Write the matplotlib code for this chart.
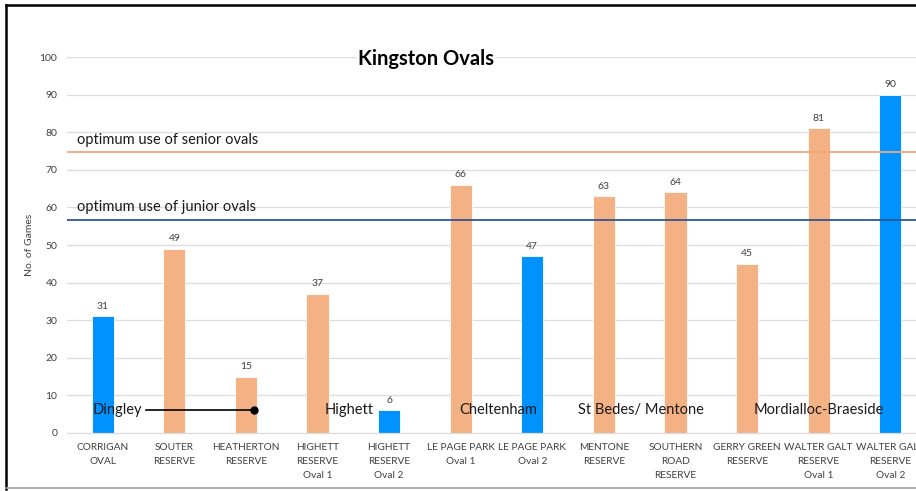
import matplotlib
matplotlib.use('Agg')
import matplotlib.pyplot as plt
from matplotlib.lines import Line2D

plt.rcParams['font.family'] = ['Lato', 'DejaVu Sans']

# games per oval
ovals = ['CORRIGAN\nOVAL', 'SOUTER\nRESERVE', 'HEATHERTON\nRESERVE',
         'HIGHETT\nRESERVE\nOval 1', 'HIGHETT\nRESERVE\nOval 2',
         'LE PAGE PARK\nOval 1', 'LE PAGE PARK\nOval 2', 'MENTONE\nRESERVE',
         'SOUTHERN\nROAD\nRESERVE', 'GERRY GREEN\nRESERVE',
         'WALTER GALT\nRESERVE\nOval 1', 'WALTER GALT\nRESERVE\nOval 2']
games = [31, 49, 15, 37, 6, 66, 47, 63, 64, 45, 81, 90]
oval_type = ['junior', 'senior', 'senior', 'senior', 'junior', 'senior',
             'junior', 'senior', 'senior', 'senior', 'senior', 'junior']

senior_optimum = 74.7
junior_optimum = 56.7

# suburb groups: (name, x position in category units)
suburbs = ['Dingley', 'Highett', 'Cheltenham', 'St Bedes/ Mentone', 'Mordialloc-Braeside']
suburb_x = [0.2, 3.44, 5.53, 7.52, 10.0]
suburb_y = 6.2

orange = '#F4B183'
blue = '#0092FF'
colors = {'senior': orange, 'junior': blue}

W, H = 916, 491
fig = plt.figure(figsize=(W / 100, H / 100), dpi=100)
ax = fig.add_axes([67 / W, 58 / H, 859 / W, 376 / H])

x = list(range(len(games)))
ax.bar(x, games, width=0.31, color=[colors[t] for t in oval_type],
       edgecolor='white', linewidth=0.6, zorder=2)
for xi, g in zip(x, games):
    ax.annotate(str(g), (xi, g), xytext=(0, 4), textcoords='offset points',
                ha='center', va='bottom', fontsize=7.5, color='#404040')

ax.set_xlim(-0.5, 11.5)
ax.set_ylim(0, 100)
ax.set_yticks(range(0, 101, 10))
ax.grid(axis='y', color='#DDDDDD', linewidth=0.9, zorder=0)
ax.set_axisbelow(True)
for s in ['top', 'right', 'left']:
    ax.spines[s].set_visible(False)
ax.spines['bottom'].set_color('#DDDDDD')
ax.spines['bottom'].set_linewidth(0.9)
ax.tick_params(length=0, labelsize=7.5, colors='#404040')
ax.tick_params(axis='y', pad=7)
ax.tick_params(axis='x', pad=7, labelsize=7.3)
ax.set_xticks(x)
ax.set_xticklabels(ovals, linespacing=1.7)
ax.set_ylabel('No. of Games', fontsize=7.5, color='#404040', labelpad=4)

# optimum use lines
ax.axhline(senior_optimum, color='#F4A77A', linewidth=1.3, zorder=3)
ax.axhline(junior_optimum, color='#2F5597', linewidth=1.3, zorder=3)
ax.text(-0.36, senior_optimum + 3.2, 'optimum use of senior ovals', fontsize=10.5,
        va='center', ha='left', color='#1a1a1a')
ax.text(-0.36, junior_optimum + 3.3, 'optimum use of junior ovals', fontsize=10.5,
        va='center', ha='left', color='#1a1a1a')

for name, sx in zip(suburbs, suburb_x):
    ax.text(sx, suburb_y, name, fontsize=10.5, ha='center', va='center',
            color='#1a1a1a', zorder=4)
ax.plot([0.6, 2.11], [suburb_y, suburb_y], color='black', linewidth=1.2, zorder=4)
ax.plot([2.11], [suburb_y], 'o', color='black', markersize=5, zorder=4)

ax.text(4.52, 99.6, 'Kingston Ovals', fontsize=14.5, fontweight='bold', ha='center',
        va='center', color='black', zorder=5,
        bbox=dict(facecolor='white', edgecolor='none', pad=1))

# outer frame
fig.add_artist(Line2D([6 / W, 6 / W], [1 - 5 / H, 1 - 489 / H], color='black',
                      linewidth=1.8, transform=fig.transFigure))
fig.add_artist(Line2D([6 / W, 1], [1 - 5 / H, 1 - 5 / H], color='black',
                      linewidth=1.8, transform=fig.transFigure))
fig.add_artist(Line2D([6 / W, 1], [1 - 488 / H, 1 - 488 / H], color='#A0A0A0',
                      linewidth=1.2, transform=fig.transFigure))

fig.savefig('out.png', dpi=100)
